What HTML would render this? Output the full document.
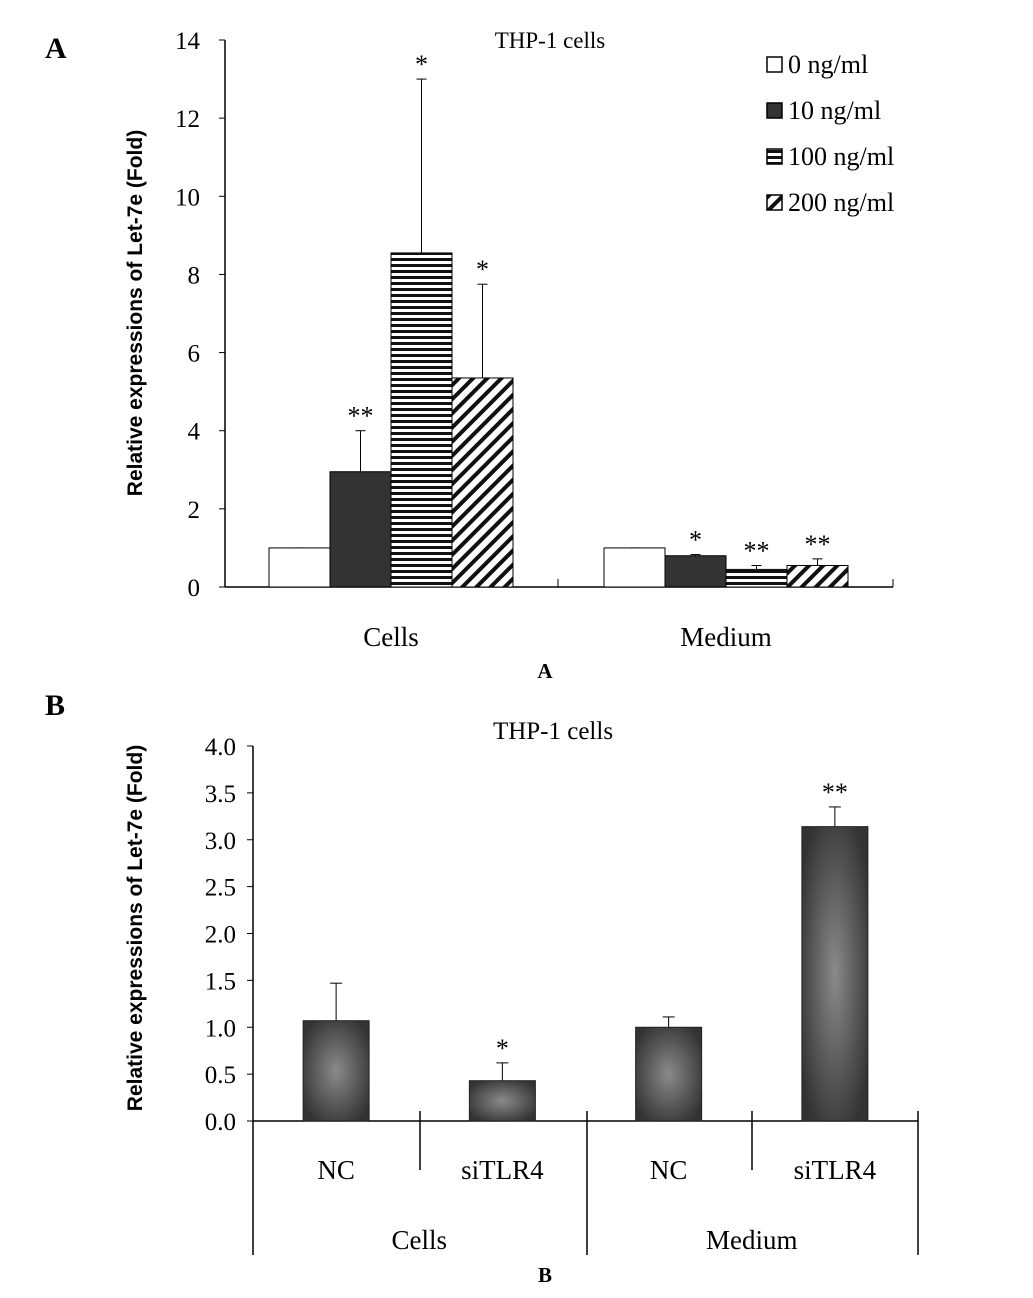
<!DOCTYPE html>
<html><head><meta charset="utf-8"><style>
body{margin:0;background:#fff;}
svg{display:block;font-family:"Liberation Serif",serif;}
.s{font-family:"Liberation Sans",sans-serif;}
</style></head><body>
<svg id="svg" width="1033" height="1298" xmlns="http://www.w3.org/2000/svg">
<defs>
<pattern id="hs" width="8" height="6" patternUnits="userSpaceOnUse"><rect width="8" height="6" fill="#fff"/><rect width="8" height="3" fill="#111"/></pattern>
<pattern id="dg" width="10" height="10" patternUnits="userSpaceOnUse" patternTransform="rotate(45)"><rect width="10" height="10" fill="#fff"/><rect width="4" height="10" fill="#111"/></pattern>
<radialGradient id="gb" cx="0.5" cy="0.5" r="0.6"><stop offset="0" stop-color="#8a8a8a"/><stop offset="1" stop-color="#333"/></radialGradient>
</defs>
<text x="45" y="58" font-size="30" font-weight="bold">A</text>
<text x="45" y="715" font-size="30" font-weight="bold">B</text>
<g id="ga"></g><g id="gbb"></g>
</svg>
<script>
// Panel A data
const catsA=["Cells","Medium"];
const seriesA=["0 ng/ml","10 ng/ml","100 ng/ml","200 ng/ml"];
const valsA=[[1.0,2.95,8.55,5.35],[1.0,0.8,0.45,0.55]];
const errA=[[1.0,4.0,13.0,7.75],[1.0,0.83,0.55,0.72]];
const starsA=[["","**","*","*"],["","*","**","**"]];
const ticksA=[0,2,4,6,8,10,12,14];
// Panel B data
const catsB=["NC","siTLR4","NC","siTLR4"];
const groupsB=["Cells","Medium"];
const valsB=[1.07,0.43,1.0,3.14];
const errB=[1.47,0.62,1.11,3.35];
const starsB=["","*","","**"];
const ticksB=[0,0.5,1.0,1.5,2.0,2.5,3.0,3.5,4.0];

const NS="http://www.w3.org/2000/svg";
function mk(p,t,a,txt){const e=document.createElementNS(NS,t);for(const k in a)e.setAttribute(k,a[k]);if(txt!==undefined)e.textContent=txt;p.appendChild(e);return e;}
const fills=["#fff","#333","url(#hs)","url(#dg)"];
// A
const ga=document.getElementById('ga');
const yA=v=>587-v*(547/14);
let e;
e=mk(ga,'line',{x1:225,y1:40,x2:225,y2:587,stroke:'#000','stroke-width':1.5});

e=mk(ga,'line',{x1:225,y1:587,x2:893,y2:587,stroke:'#000','stroke-width':1.5});

mk(ga,'line',{x1:558,y1:587,x2:558,y2:579,stroke:'#000'});
mk(ga,'line',{x1:893,y1:587,x2:893,y2:579,stroke:'#000'});
ticksA.forEach(t=>{mk(ga,'line',{x1:219,y1:yA(t),x2:225,y2:yA(t),stroke:'#000'});
e=mk(ga,'text',{x:200,y:yA(t)+9,'font-size':25,'text-anchor':'end'},String(t));
});
e=mk(ga,'text',{x:142,y:313,'font-size':21,'font-weight':'bold','text-anchor':'middle',class:'s',transform:'rotate(-90 142 313)'},'Relative expressions of Let-7e (Fold)');

e=mk(ga,'text',{x:550,y:48,'font-size':23,'text-anchor':'middle'},'THP-1 cells');

const startA=[269,604],bw=61;
catsA.forEach((c,ci)=>{
 seriesA.forEach((s,si)=>{
  const x=startA[ci]+si*bw,v=valsA[ci][si];
  mk(ga,'line',{x1:x+bw/2,y1:yA(v),x2:x+bw/2,y2:yA(errA[ci][si]),stroke:'#000'});
  mk(ga,'line',{x1:x+bw/2-5,y1:yA(errA[ci][si]),x2:x+bw/2+5,y2:yA(errA[ci][si]),stroke:'#000'});
  e=mk(ga,'rect',{x:x,y:yA(v),width:bw,height:587-yA(v),fill:fills[si],stroke:'#000','stroke-width':1});
  
  if(starsA[ci][si]){e=mk(ga,'text',{x:x+bw/2,y:yA(errA[ci][si])-6,'font-size':26,'text-anchor':'middle'},starsA[ci][si]);
  }
 });
 e=mk(ga,'text',{x:startA[ci]+2*bw,y:646,'font-size':27,'text-anchor':'middle'},c);
 
});
e=mk(ga,'text',{x:545,y:678,'font-size':21,'font-weight':'bold','text-anchor':'middle'},'A');

seriesA.forEach((s,i)=>{const y=57+i*46;
 e=mk(ga,'rect',{x:767,y:y,width:15,height:15,fill:fills[i],stroke:'#000','stroke-width':1.5});
 
 e=mk(ga,'text',{x:788,y:y+16,'font-size':26},s);
 });
// B
const gb=document.getElementById('gbb');
const yB=v=>1121-v*(375/4);
e=mk(gb,'line',{x1:253,y1:746,x2:253,y2:1255,stroke:'#000','stroke-width':1.5});

e=mk(gb,'line',{x1:253,y1:1121,x2:918,y2:1121,stroke:'#000','stroke-width':1.5});

[[420,1111,1170],[587,1111,1255],[752,1111,1170],[918,1111,1255]].forEach(a=>mk(gb,'line',{x1:a[0],y1:a[1],x2:a[0],y2:a[2],stroke:'#000','stroke-width':1.5}));
ticksB.forEach(t=>{mk(gb,'line',{x1:247,y1:yB(t),x2:253,y2:yB(t),stroke:'#000'});
e=mk(gb,'text',{x:236,y:yB(t)+9,'font-size':25,'text-anchor':'end'},t.toFixed(1));
});
e=mk(gb,'text',{x:142,y:928,'font-size':21,'font-weight':'bold','text-anchor':'middle',class:'s',transform:'rotate(-90 142 928)'},'Relative expressions of Let-7e (Fold)');

e=mk(gb,'text',{x:553,y:739,'font-size':25,'text-anchor':'middle'},'THP-1 cells');

const slotW=(918-253)/4,bwB=66;
catsB.forEach((c,i)=>{const cx=253+slotW*(i+0.5),v=valsB[i];
 mk(gb,'line',{x1:cx,y1:yB(v),x2:cx,y2:yB(errB[i]),stroke:'#000'});
 mk(gb,'line',{x1:cx-6,y1:yB(errB[i]),x2:cx+6,y2:yB(errB[i]),stroke:'#000'});
 e=mk(gb,'rect',{x:cx-bwB/2,y:yB(v),width:bwB,height:1121-yB(v),fill:'url(#gb)',stroke:'#222'});
 
 if(starsB[i]){e=mk(gb,'text',{x:cx,y:yB(errB[i])-6,'font-size':26,'text-anchor':'middle'},starsB[i]);
 }
 e=mk(gb,'text',{x:cx,y:1179,'font-size':27,'text-anchor':'middle'},c);
 });
groupsB.forEach((g,i)=>{e=mk(gb,'text',{x:253+slotW*(2*i+1),y:1249,'font-size':27,'text-anchor':'middle'},g);
 });
e=mk(gb,'text',{x:545,y:1282,'font-size':21,'font-weight':'bold','text-anchor':'middle'},'B');

</script>
</body></html>
